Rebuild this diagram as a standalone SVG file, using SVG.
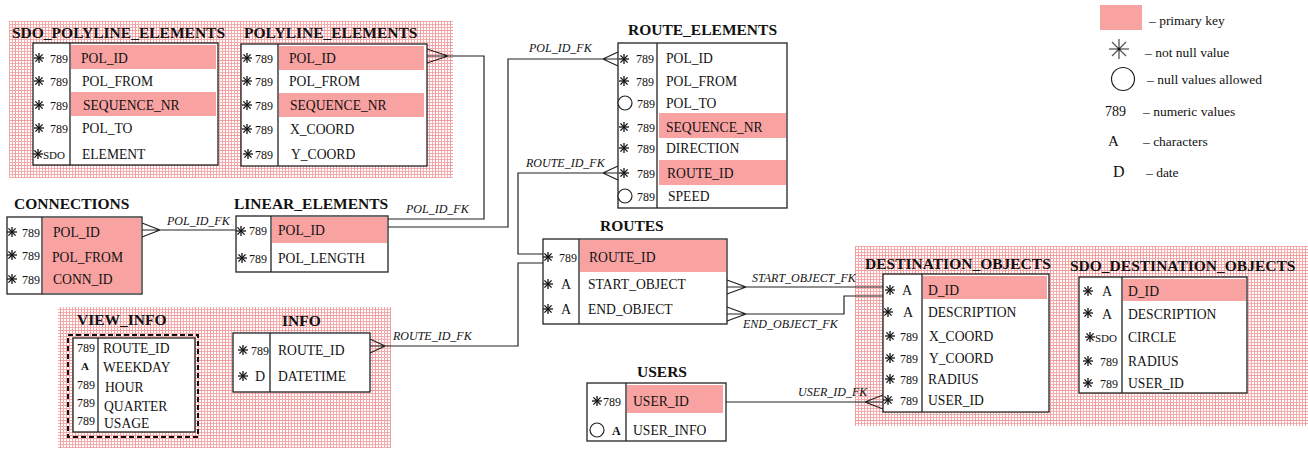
<svg xmlns="http://www.w3.org/2000/svg" width="1308" height="449" viewBox="0 0 1308 449">
  <style>
    text { font-family: "Liberation Serif", "Times New Roman", serif; fill: #111; }
    .t { font-size: 15.5px; font-weight: bold; }
    .f { font-size: 13.6px; }
    .k { font-size: 12px; }
    .kb { font-size: 11px; font-weight: bold; }
    .ka { font-size: 14px; }
    .lbl { font-size: 12px; font-style: italic; }
    .lg { font-size: 13.5px; }
    .box { fill: #fff; stroke: #222; stroke-width: 1.3; }
    .div { stroke: #222; stroke-width: 1.3; }
    .pk { fill: #f9a2a2; }
    .nul { fill: #fff; stroke: #222; stroke-width: 1.2; }
    .conn { fill: none; stroke: #222; stroke-width: 1.2; }
  </style>
  <defs>
    <!-- fine graph-paper hatch for grouped areas -->
    <pattern id="grid" width="3" height="3" patternUnits="userSpaceOnUse">
      <path d="M0 0.5H3M0.5 0V3" stroke="#f5abab" stroke-width="1" fill="none"/>
    </pattern>
    <pattern id="grid2" width="15" height="15" patternUnits="userSpaceOnUse">
      <path d="M0 0.5H15M0.5 0V15" stroke="#f08f8f" stroke-width="1" fill="none" opacity="0.5"/>
    </pattern>
    <!-- not-null marker -->
    <g id="s" stroke="#111" stroke-width="1.3">
      <line x1="0" y1="-5" x2="0" y2="5"/>
      <line x1="-5" y1="0" x2="5" y2="0"/>
      <line x1="-3.6" y1="-3.6" x2="3.6" y2="3.6"/>
      <line x1="-3.6" y1="3.6" x2="3.6" y2="-3.6"/>
    </g>
  </defs>

  <rect width="1308" height="449" fill="#fff"/>

  <!-- hatched group areas -->
  <g id="areas">
    <rect x="9" y="21" width="444" height="157" fill="url(#grid)"/>
    <rect x="9" y="21" width="444" height="157" fill="url(#grid2)"/>
    <rect x="58" y="307" width="333" height="141" fill="url(#grid)"/>
    <rect x="58" y="307" width="333" height="141" fill="url(#grid2)"/>
    <rect x="855" y="246" width="453" height="180" fill="url(#grid)"/>
    <rect x="855" y="246" width="453" height="180" fill="url(#grid2)"/>
  </g>

  <!-- legend -->
  <g id="legend">
    <rect x="1100" y="5" width="42" height="25" class="pk"/>
    <text x="1149" y="25" class="lg">– primary key</text>
    <g stroke="#555" stroke-width="1.3">
      <line x1="1119" y1="39" x2="1119" y2="59"/>
      <line x1="1109" y1="49" x2="1129" y2="49"/>
      <line x1="1112" y1="42" x2="1126" y2="56"/>
      <line x1="1112" y1="56" x2="1126" y2="42"/>
    </g>
    <circle cx="1119" cy="49" r="1.5" fill="#111"/>
    <text x="1145" y="57" class="lg">– not null value</text>
    <circle cx="1123" cy="79" r="11.5" class="nul"/>
    <text x="1147" y="84" class="lg">– null values allowed</text>
    <text x="1105" y="116" class="ka">789</text>
    <text x="1143" y="116" class="lg">– numeric values</text>
    <text x="1108" y="146" style="font-size:15px">A</text>
    <text x="1143" y="146" class="lg">– characters</text>
    <text x="1113" y="177" style="font-size:16px">D</text>
    <text x="1146" y="177" class="lg">– date</text>
  </g>

  <!-- connectors -->
  <g id="connectors">
    <!-- POLYLINE_ELEMENTS.POL_ID - LINEAR_ELEMENTS -->
    <path class="conn" d="M427 49L448 56L427 63M427 56H484V219H388"/>
    <text x="406" y="213" class="lbl">POL_ID_FK</text>
    <!-- LINEAR_ELEMENTS - ROUTE_ELEMENTS.POL_ID -->
    <path class="conn" d="M388 227H508V59H618M618 52L603 59L618 66"/>
    <text x="529" y="52" class="lbl">POL_ID_FK</text>
    <!-- CONNECTIONS - LINEAR_ELEMENTS -->
    <path class="conn" d="M142 223L160 230L142 237M142 230H236"/>
    <text x="167" y="225" class="lbl">POL_ID_FK</text>
    <!-- ROUTES - ROUTE_ELEMENTS.ROUTE_ID -->
    <path class="conn" d="M543 254H518V173H618M618 166L603 173L618 180"/>
    <text x="526" y="167" class="lbl">ROUTE_ID_FK</text>
    <!-- ROUTES - INFO -->
    <path class="conn" d="M543 263H518V346H370M370 339L385 346L370 353"/>
    <text x="393" y="340" class="lbl">ROUTE_ID_FK</text>
    <!-- DESTINATION_OBJECTS - ROUTES.START_OBJECT -->
    <path class="conn" d="M727 280L746 287L727 294M727 287H883"/>
    <text x="752" y="282" class="lbl">START_OBJECT_FK</text>
    <!-- DESTINATION_OBJECTS - ROUTES.END_OBJECT -->
    <path class="conn" d="M727 307L746 314L727 321M727 314H844V296H883"/>
    <text x="743" y="328" class="lbl">END_OBJECT_FK</text>
    <!-- USERS - DESTINATION_OBJECTS.USER_ID -->
    <path class="conn" d="M726 402H883M883 395L865 402L883 409"/>
    <text x="798" y="396" class="lbl">USER_ID_FK</text>
  </g>

  <g id="sdo_polyline_elements">
    <text x="12" y="38" class="t">SDO_POLYLINE_ELEMENTS</text>
    <rect x="33" y="43" width="185" height="122" class="box"/>
    <rect x="71" y="45" width="145" height="24" class="pk"/>
    <rect x="71" y="92" width="145" height="24" class="pk"/>
    <line x1="70" y1="43" x2="70" y2="165" class="div"/>
    <use href="#s" x="39" y="58"/><text x="50" y="63" class="k">789</text>
    <use href="#s" x="39" y="81"/><text x="50" y="86" class="k">789</text>
    <use href="#s" x="39" y="105"/><text x="50" y="110" class="k">789</text>
    <use href="#s" x="39" y="128"/><text x="50" y="133" class="k">789</text>
    <use href="#s" x="38" y="154"/><text x="43" y="159" class="kb" style="font-weight:normal">SDO</text>
    <text x="81" y="63" class="f">POL_ID</text>
    <text x="82" y="86" class="f">POL_FROM</text>
    <text x="83" y="110" class="f">SEQUENCE_NR</text>
    <text x="82" y="133" class="f">POL_TO</text>
    <text x="82" y="159" class="f">ELEMENT</text>
  </g>

  <g id="polyline_elements">
    <text x="244" y="38" class="t">POLYLINE_ELEMENTS</text>
    <rect x="241" y="44" width="186" height="122" class="box"/>
    <rect x="279" y="46" width="145" height="24" class="pk"/>
    <rect x="279" y="93" width="145" height="24" class="pk"/>
    <line x1="278" y1="44" x2="278" y2="166" class="div"/>
    <use href="#s" x="247" y="58"/><text x="255" y="63" class="k">789</text>
    <use href="#s" x="247" y="81"/><text x="255" y="86" class="k">789</text>
    <use href="#s" x="247" y="105"/><text x="255" y="110" class="k">789</text>
    <use href="#s" x="247" y="129"/><text x="255" y="134" class="k">789</text>
    <use href="#s" x="248" y="154"/><text x="255" y="159" class="k">789</text>
    <text x="289" y="63" class="f">POL_ID</text>
    <text x="289" y="86" class="f">POL_FROM</text>
    <text x="290" y="110" class="f">SEQUENCE_NR</text>
    <text x="290" y="134" class="f">X_COORD</text>
    <text x="291" y="159" class="f">Y_COORD</text>
  </g>

  <g id="route_elements">
    <text x="628" y="35" class="t">ROUTE_ELEMENTS</text>
    <rect x="618" y="43" width="169" height="165" class="box"/>
    <rect x="659" y="113" width="127" height="25" class="pk"/>
    <rect x="659" y="160" width="127" height="25" class="pk"/>
    <line x1="657" y1="43" x2="657" y2="208" class="div"/>
    <use href="#s" x="624" y="59"/><text x="636" y="63" class="k">789</text>
    <use href="#s" x="624" y="81"/><text x="636" y="86" class="k">789</text>
    <circle cx="625" cy="103" r="7" class="nul"/><text x="637" y="108" class="k">789</text>
    <use href="#s" x="624" y="127"/><text x="637" y="132" class="k">789</text>
    <use href="#s" x="624" y="148"/><text x="637" y="153" class="k">789</text>
    <use href="#s" x="624" y="173"/><text x="637" y="178" class="k">789</text>
    <circle cx="625" cy="196" r="7" class="nul"/><text x="637" y="201" class="k">789</text>
    <text x="666" y="63" class="f">POL_ID</text>
    <text x="666" y="86" class="f">POL_FROM</text>
    <text x="666" y="108" class="f">POL_TO</text>
    <text x="666" y="132" class="f">SEQUENCE_NR</text>
    <text x="666" y="153" class="f">DIRECTION</text>
    <text x="667" y="178" class="f">ROUTE_ID</text>
    <text x="668" y="201" class="f">SPEED</text>
  </g>

  <g id="connections">
    <text x="14" y="209" class="t">CONNECTIONS</text>
    <rect x="7" y="217" width="135" height="77" class="box"/>
    <rect x="43" y="218" width="98" height="75" class="pk"/>
    <line x1="42" y1="217" x2="42" y2="294" class="div"/>
    <use href="#s" x="12" y="232"/><text x="22" y="237" class="k">789</text>
    <use href="#s" x="12" y="255"/><text x="22" y="260" class="k">789</text>
    <use href="#s" x="12" y="279"/><text x="22" y="284" class="k">789</text>
    <text x="53" y="237" class="f">POL_ID</text>
    <text x="52" y="262" class="f">POL_FROM</text>
    <text x="53" y="284" class="f">CONN_ID</text>
  </g>

  <g id="linear_elements">
    <text x="234" y="209" class="t">LINEAR_ELEMENTS</text>
    <rect x="236" y="216" width="152" height="56" class="box"/>
    <rect x="272" y="217" width="115" height="26" class="pk"/>
    <line x1="271" y1="216" x2="271" y2="272" class="div"/>
    <use href="#s" x="241" y="231"/><text x="249" y="235" class="k">789</text>
    <use href="#s" x="242" y="258"/><text x="249" y="263" class="k">789</text>
    <text x="278" y="235" class="f">POL_ID</text>
    <text x="278" y="263" class="f">POL_LENGTH</text>
  </g>

  <g id="routes">
    <text x="600" y="231" class="t">ROUTES</text>
    <rect x="543" y="239" width="184" height="85" class="box"/>
    <rect x="580" y="240" width="146" height="32" class="pk"/>
    <line x1="579" y1="239" x2="579" y2="324" class="div"/>
    <use href="#s" x="548" y="257"/><text x="559" y="262" class="k">789</text>
    <use href="#s" x="548" y="284"/><text x="561" y="289" class="ka">A</text>
    <use href="#s" x="548" y="309"/><text x="561" y="314" class="ka">A</text>
    <text x="589" y="262" class="f">ROUTE_ID</text>
    <text x="588" y="289" class="f">START_OBJECT</text>
    <text x="588" y="314" class="f">END_OBJECT</text>
  </g>

  <g id="view_info">
    <text x="77" y="325" class="t">VIEW_INFO</text>
    <rect x="68" y="335" width="130" height="102" fill="none" stroke="#111" stroke-width="2" stroke-dasharray="5 3"/>
    <rect x="73" y="338" width="122" height="94" class="box"/>
    <line x1="98" y1="338" x2="98" y2="432" class="div"/>
    <text x="77" y="352" class="k">789</text>
    <text x="81" y="370" class="kb">A</text>
    <text x="77" y="389" class="k">789</text>
    <text x="77" y="407" class="k">789</text>
    <text x="77" y="425" class="k">789</text>
    <text x="103" y="353" class="f">ROUTE_ID</text>
    <text x="103" y="372" class="f">WEEKDAY</text>
    <text x="105" y="392" class="f">HOUR</text>
    <text x="104" y="411" class="f">QUARTER</text>
    <text x="104" y="428" class="f">USAGE</text>
  </g>

  <g id="info">
    <text x="282" y="326" class="t">INFO</text>
    <rect x="233" y="333" width="137" height="59" class="box"/>
    <line x1="270" y1="333" x2="270" y2="392" class="div"/>
    <use href="#s" x="243" y="350"/><text x="251" y="355" class="k">789</text>
    <use href="#s" x="243" y="376"/><text x="255" y="381" class="ka">D</text>
    <text x="278" y="355" class="f">ROUTE_ID</text>
    <text x="278" y="381" class="f">DATETIME</text>
  </g>

  <g id="users">
    <text x="637" y="377" class="t">USERS</text>
    <rect x="587" y="383" width="139" height="58" class="box"/>
    <rect x="627" y="385" width="96" height="28" class="pk"/>
    <line x1="626" y1="383" x2="626" y2="441" class="div"/>
    <use href="#s" x="597" y="401"/><text x="603" y="406" class="k">789</text>
    <circle cx="597" cy="430" r="7" class="nul"/><text x="612" y="435" class="kb" style="font-size:12px">A</text>
    <text x="633" y="406" class="f">USER_ID</text>
    <text x="633" y="435" class="f">USER_INFO</text>
  </g>

  <g id="destination_objects">
    <text x="865" y="269" class="t">DESTINATION_OBJECTS</text>
    <rect x="883" y="274" width="166" height="138" class="box"/>
    <rect x="923" y="276" width="124" height="23" class="pk"/>
    <line x1="922" y1="274" x2="922" y2="412" class="div"/>
    <use href="#s" x="890" y="290"/><text x="902" y="295" class="ka">A</text>
    <use href="#s" x="888" y="312"/><text x="903" y="317" class="ka">A</text>
    <use href="#s" x="890" y="336"/><text x="900" y="341" class="k">789</text>
    <use href="#s" x="890" y="358"/><text x="900" y="363" class="k">789</text>
    <use href="#s" x="890" y="379"/><text x="900" y="384" class="k">789</text>
    <use href="#s" x="888" y="400"/><text x="900" y="405" class="k">789</text>
    <text x="928" y="295" class="f">D_ID</text>
    <text x="928" y="317" class="f">DESCRIPTION</text>
    <text x="929" y="341" class="f">X_COORD</text>
    <text x="929" y="363" class="f">Y_COORD</text>
    <text x="928" y="384" class="f">RADIUS</text>
    <text x="928" y="405" class="f">USER_ID</text>
  </g>

  <g id="sdo_destination_objects">
    <text x="1070" y="271" class="t">SDO_DESTINATION_OBJECTS</text>
    <rect x="1079" y="277" width="168" height="116" class="box"/>
    <rect x="1123" y="279" width="123" height="22" class="pk"/>
    <line x1="1122" y1="277" x2="1122" y2="393" class="div"/>
    <use href="#s" x="1088" y="291"/><text x="1102" y="296" class="ka">A</text>
    <use href="#s" x="1088" y="313"/><text x="1102" y="319" class="ka">A</text>
    <use href="#s" x="1090" y="337"/><text x="1095" y="342" class="kb" style="font-weight:normal">SDO</text>
    <use href="#s" x="1088" y="361"/><text x="1100" y="366" class="k">789</text>
    <use href="#s" x="1088" y="383"/><text x="1100" y="388" class="k">789</text>
    <text x="1128" y="296" class="f">D_ID</text>
    <text x="1128" y="319" class="f">DESCRIPTION</text>
    <text x="1128" y="342" class="f">CIRCLE</text>
    <text x="1128" y="366" class="f">RADIUS</text>
    <text x="1128" y="388" class="f">USER_ID</text>
  </g>
</svg>
